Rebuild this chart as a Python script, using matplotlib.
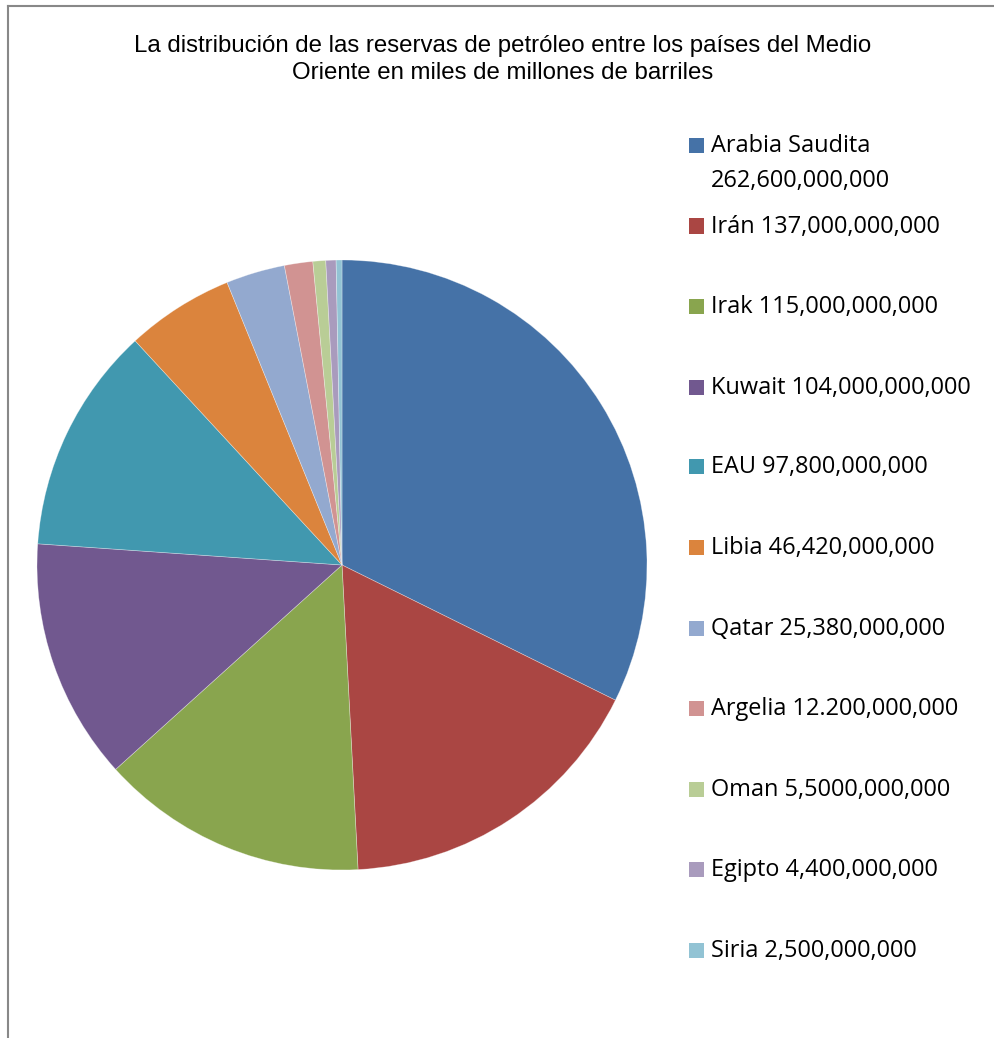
import matplotlib.pyplot as plt
from matplotlib.patches import Rectangle
from matplotlib.lines import Line2D

# --- data ---
countries = ["Arabia Saudita", "Irán", "Irak", "Kuwait", "EAU", "Libia",
             "Qatar", "Argelia", "Oman", "Egipto", "Siria"]
reserves = [262.6, 137.0, 115.0, 104.0, 97.8, 46.42, 25.38, 12.2, 5.5, 4.4, 2.5]
legend_labels = ["Arabia Saudita", "Irán 137,000,000,000",
                 "Irak 115,000,000,000", "Kuwait 104,000,000,000",
                 "EAU 97,800,000,000", "Libia 46,420,000,000",
                 "Qatar 25,380,000,000", "Argelia 12.200,000,000",
                 "Oman 5,5000,000,000", "Egipto 4,400,000,000",
                 "Siria 2,500,000,000"]
saudi_value = "262,600,000,000"
colors = ["#4572A7", "#AA4643", "#89A54E", "#71588F", "#4198AF", "#DB843D",
          "#93A9CF", "#D19392", "#B9CD96", "#A99BBD", "#92C3D4"]

W, H = 995, 1038
fig = plt.figure(figsize=(W / 100, H / 100), dpi=100)
fig.patch.set_facecolor("white")

# pie: centre (342, 565) px, radius 305 px
cx, cy, r = 342, 565, 305
ax = fig.add_axes([(cx - r) / W, (H - cy - r) / H, 2 * r / W, 2 * r / H])
ax.pie(reserves, colors=colors, startangle=90, counterclock=False, radius=1,
       wedgeprops=dict(linewidth=0.5, edgecolor=(1, 1, 1, 0.4)))
ax.set_xlim(-1, 1)
ax.set_ylim(-1, 1)
ax.set_aspect("auto")
ax.axis("off")

# title
fig.text(503 / W, 1 - 46 / H,
         "La distribución de las reservas de petróleo entre los países del Medio",
         ha="center", va="center", fontsize=17.3, family="Liberation Sans")
fig.text(503 / W, 1 - 73 / H, "Oriente en miles de millones de barriles",
         ha="center", va="center", fontsize=17.3, family="Liberation Sans")

# legend (drawn by hand to keep Excel's spacing)
rows_y = [145, 226, 306, 387, 466, 547, 628, 708, 789, 869, 950]
for lab, col, y in zip(legend_labels, colors, rows_y):
    fig.patches.append(Rectangle((689 / W, 1 - (y + 7.5) / H), 15 / W, 15 / H,
                                 transform=fig.transFigure, facecolor=col,
                                 edgecolor="none"))
    fig.text(711 / W, 1 - (y + 1) / H, lab, ha="left", va="center",
             fontsize=16.9, family="Open Sans", color="black")
fig.text(711 / W, 1 - 181 / H, saudi_value, ha="left", va="center",
         fontsize=16.9, family="Open Sans", color="black")

# chart border (only top and left show in the crop)
fig.add_artist(Line2D([8 / W, 1], [1 - 6 / H, 1 - 6 / H], transform=fig.transFigure,
                      color="#888888", linewidth=1.5))
fig.add_artist(Line2D([8 / W, 8 / W], [0, 1 - 6 / H], transform=fig.transFigure,
                      color="#888888", linewidth=1.5))

fig.savefig("out.png", dpi=100)
